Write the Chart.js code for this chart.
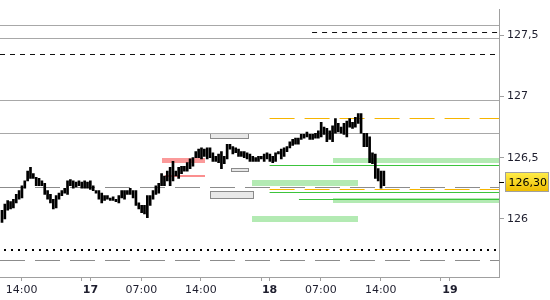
<!DOCTYPE html>
<html>
<head>
<meta charset="utf-8">
<script src="https://cdn.jsdelivr.net/npm/chart.js@4/dist/chart.umd.min.js"></script>
<style>
  html, body { margin: 0; padding: 0; background: #fff; }
</style>
</head>
<body>
<canvas id="chart" width="550" height="300"></canvas>
<script>
// bar highs / lows, one per bar (bar index on x)
const highs = [
  126.07,126.12,126.15,126.14,126.16,126.20,126.23,126.27,126.31,126.39,
  126.42,126.37,126.34,126.33,126.31,126.29,126.23,126.20,126.16,126.19,
  126.21,126.23,126.25,126.31,126.32,126.31,126.30,126.31,126.30,126.31,
  126.30,126.31,126.27,126.23,126.23,126.21,126.19,126.19,126.17,126.18,
  126.16,126.19,126.23,126.23,126.23,126.25,126.23,126.23,126.13,126.11,
  126.11,126.19,126.19,126.23,126.27,126.29,126.37,126.35,126.39,126.42,
  126.47,126.39,126.42,126.43,126.43,126.46,126.49,126.50,126.55,126.57,
  126.58,126.57,126.58,126.58,126.54,126.51,126.53,126.55,126.51,126.61,
  126.61,126.59,126.58,126.57,126.55,126.55,126.54,126.53,126.51,126.50,
  126.51,126.51,126.53,126.54,126.53,126.51,126.54,126.55,126.57,126.58,
  126.59,126.63,126.65,126.66,126.66,126.69,126.69,126.71,126.69,126.69,
  126.70,126.72,126.79,126.75,126.74,126.72,126.76,126.82,126.78,126.75,
  126.78,126.80,126.82,126.79,126.83,126.86,126.86,126.70,126.70,126.67,
  126.54,126.53,126.41,126.39,126.39
];
const lows = [
  125.97,126.00,126.07,126.08,126.09,126.13,126.16,126.17,126.25,126.31,
  126.33,126.33,126.27,126.27,126.27,126.20,126.16,126.13,126.08,126.09,
  126.16,126.19,126.21,126.20,126.27,126.25,126.26,126.27,126.25,126.25,
  126.25,126.24,126.23,126.21,126.16,126.13,126.15,126.16,126.15,126.15,
  126.14,126.13,126.17,126.16,126.20,126.20,126.17,126.11,126.08,126.05,
  126.04,126.01,126.11,126.16,126.20,126.21,126.27,126.27,126.31,126.27,
  126.31,126.35,126.33,126.37,126.39,126.39,126.41,126.43,126.50,126.50,
  126.49,126.51,126.49,126.50,126.47,126.47,126.46,126.41,126.45,126.49,
  126.57,126.53,126.54,126.51,126.51,126.50,126.49,126.47,126.47,126.47,
  126.47,126.49,126.47,126.49,126.47,126.46,126.47,126.53,126.49,126.51,
  126.55,126.58,126.60,126.61,126.61,126.65,126.66,126.67,126.65,126.65,
  126.66,126.66,126.67,126.69,126.63,126.65,126.63,126.70,126.71,126.70,
  126.69,126.67,126.75,126.74,126.75,126.78,126.70,126.59,126.59,126.46,
  126.45,126.33,126.31,126.25,126.27
];
const lastPrice = 126.30;

// x axis (bar index) and y axis ticks
const xMin = -0.7, xMax = 174.4;
const xTickPos  = [6.9, 28.0, 31.05, 48.9, 69.8, 91.0, 93.9, 111.9, 132.9, 153.7, 157.2];
const xTickText = ["14:00", "", "17", "07:00", "14:00", "", "18", "07:00", "14:00", "", "19"];
const dayLabels = ["17", "18", "19"];
const yMin = 125.524, yMax = 127.711;
const yTicks = [126, 126.5, 127, 127.5];

// horizontal levels
const grayLevels = [127.585, 127.48, 126.974, 126.70];
const grayDashLevels = [126.258, 125.666];
const blackDotLevel = 125.747;
const blackDashLevels = [127.345, 127.527];
const blackDashFrom = [xMin, 108.8];
const orangeLevels = [126.824, 126.24];
const orangeFrom = 93.9;
const greenLevels = [126.44, 126.216, 126.161];
const greenFrom = [93.9, 93.9, 104.2];

// zones: from, to, top, bottom
const greenZoneFrom = [116.1, 87.7, 116.1, 87.7];
const greenZoneTo   = [xMax, 124.9, xMax, 124.9];
const greenZoneTop  = [126.495, 126.314, 126.168, 126.021];
const greenZoneBot  = [126.456, 126.266, 126.132, 125.974];
const pinkZone = [56.1, 71.2, 126.495, 126.456];
const pinkLine = [57.2, 71.2, 126.35];
const boxFrom = [73.0, 80.4, 73.0];
const boxTo   = [86.3, 86.3, 88.0];
const boxTop  = [126.70, 126.416, 126.227];
const boxBot  = [126.663, 126.387, 126.174];

const FONT = "DejaVu Sans";

const levelsPlugin = {
  id: "levels",
  beforeDatasetsDraw(chart) {
    const { ctx, chartArea: a } = chart;
    const xs = chart.scales.x, ys = chart.scales.y;
    const X = (v) => xs.getPixelForValue(v);
    const Y = (v) => ys.getPixelForValue(v);
    const crisp = (v) => Math.round(Y(v)) + 0.5;

    ctx.save();
    ctx.beginPath();
    ctx.rect(a.left, a.top, a.right - a.left, a.bottom - a.top);
    ctx.clip();

    function hline(v, x0, x1, color, width, dash) {
      ctx.beginPath();
      ctx.setLineDash(dash || []);
      ctx.strokeStyle = color;
      ctx.lineWidth = width;
      const y = width % 2 ? crisp(v) : Math.round(Y(v));
      ctx.moveTo(x0, y);
      ctx.lineTo(x1, y);
      ctx.stroke();
    }
    function zone(x0, x1, top, bot, color) {
      ctx.fillStyle = color;
      const y0 = Math.round(Y(top)), y1 = Math.round(Y(bot));
      ctx.fillRect(Math.round(X(x0)), y0, Math.round(X(x1)) - Math.round(X(x0)), y1 - y0);
    }

    // zones
    for (let i = 0; i < greenZoneFrom.length; i++) {
      zone(greenZoneFrom[i], greenZoneTo[i], greenZoneTop[i], greenZoneBot[i], "#b3eab3");
    }
    zone(pinkZone[0], pinkZone[1], pinkZone[2], pinkZone[3], "#fb9a9a");
    ctx.fillStyle = "#fb8f8f";
    ctx.fillRect(Math.round(X(pinkLine[0])), Math.round(Y(pinkLine[2])) - 1,
      Math.round(X(pinkLine[1])) - Math.round(X(pinkLine[0])), 2);

    // gray boxes
    for (let i = 0; i < boxFrom.length; i++) {
      const x0 = Math.round(X(boxFrom[i])) + 0.5, x1 = Math.round(X(boxTo[i])) + 0.5;
      const y0 = crisp(boxTop[i]), y1 = crisp(boxBot[i]);
      ctx.setLineDash([]);
      ctx.fillStyle = "#e8e8e8";
      ctx.fillRect(x0, y0, x1 - x0, y1 - y0);
      ctx.strokeStyle = "#8a8a8a";
      ctx.lineWidth = 1;
      ctx.strokeRect(x0, y0, x1 - x0, y1 - y0);
    }

    grayLevels.forEach((v) => hline(v, a.left, a.right, "#a8a8a8", 1));
    grayDashLevels.forEach((v) => hline(v, a.left, a.right, "#8c8c8c", 1, [25, 10]));
    blackDashLevels.forEach((v, i) => hline(v, Math.max(a.left, X(blackDashFrom[i])), a.right, "#111", 1, [5, 5]));
    hline(blackDotLevel, a.left + 4, a.right, "#000", 2, [2, 5]);
    orangeLevels.forEach((v) => hline(v, X(orangeFrom), a.right, "#f7b500", 1, [25, 10]));
    greenLevels.forEach((v, i) => hline(v, X(greenFrom[i]), a.right, "#3cc43c", 1));

    ctx.restore();
  },
};

const priceTagPlugin = {
  id: "priceTag",
  afterDraw(chart) {
    const { ctx, chartArea: a } = chart;
    const y = Math.round(chart.scales.y.getPixelForValue(lastPrice));
    ctx.save();
    ctx.strokeStyle = "#000";
    ctx.lineWidth = 1;
    ctx.beginPath();
    ctx.moveTo(a.right, y + 0.5);
    ctx.lineTo(a.right + 5, y + 0.5);
    ctx.stroke();

    const bx = a.right + 6.5, bw = 43, bh = 19, by = y - 9.5;
    const g = ctx.createLinearGradient(0, by, 0, by + bh);
    g.addColorStop(0, "#ffee4a");
    g.addColorStop(1, "#efbd00");
    ctx.fillStyle = g;
    ctx.fillRect(bx, by, bw, bh);
    ctx.strokeStyle = "#a0a0a0";
    ctx.strokeRect(bx, by, bw, bh);
    ctx.fillStyle = "#000";
    ctx.font = "11px " + FONT;
    ctx.textBaseline = "middle";
    ctx.fillText(lastPrice.toFixed(2).replace(".", ","), bx + 3, y + 1);
    ctx.restore();
  },
};

new Chart(document.getElementById("chart"), {
  type: "bar",
  data: {
    datasets: [{
      data: highs.map((h, i) => ({ x: i, y: [lows[i], h] })),
      backgroundColor: "#000",
      borderWidth: 0,
      barThickness: 2,
    }],
  },
  options: {
    responsive: false,
    devicePixelRatio: 1,
    animation: false,
    layout: { padding: 0 },
    plugins: { legend: { display: false }, tooltip: { enabled: false } },
    scales: {
      x: {
        type: "linear",
        min: xMin,
        max: xMax,
        offset: false,
        afterBuildTicks: (s) => { s.ticks = xTickPos.map((v) => ({ value: v })); },
        afterFit: (s) => { s.height = 23; },
        grid: { drawOnChartArea: false, offset: false, tickLength: 4, color: "#a0a0a0" },
        border: { color: "#a0a0a0" },
        ticks: {
          autoSkip: false,
          maxRotation: 0,
          padding: 3,
          color: "#1e1e2e",
          callback: (v, i) => xTickText[i],
          font: (c) => ({ family: FONT, size: 11, weight: dayLabels.includes(xTickText[c.index]) ? "bold" : "normal" }),
        },
      },
      y: {
        position: "right",
        min: yMin,
        max: yMax,
        beginAtZero: false,
        afterBuildTicks: (s) => { s.ticks = yTicks.map((v) => ({ value: v })); },
        afterFit: (s) => { s.width = 51; },
        grid: { drawOnChartArea: false, tickLength: 5, color: "#a0a0a0" },
        border: { color: "#a0a0a0" },
        ticks: {
          padding: 3,
          color: "#1e1e2e",
          font: { family: FONT, size: 11 },
          callback: (v) => String(v).replace(".", ","),
        },
      },
    },
  },
  plugins: [levelsPlugin, priceTagPlugin],
});
</script>
</body>
</html>
